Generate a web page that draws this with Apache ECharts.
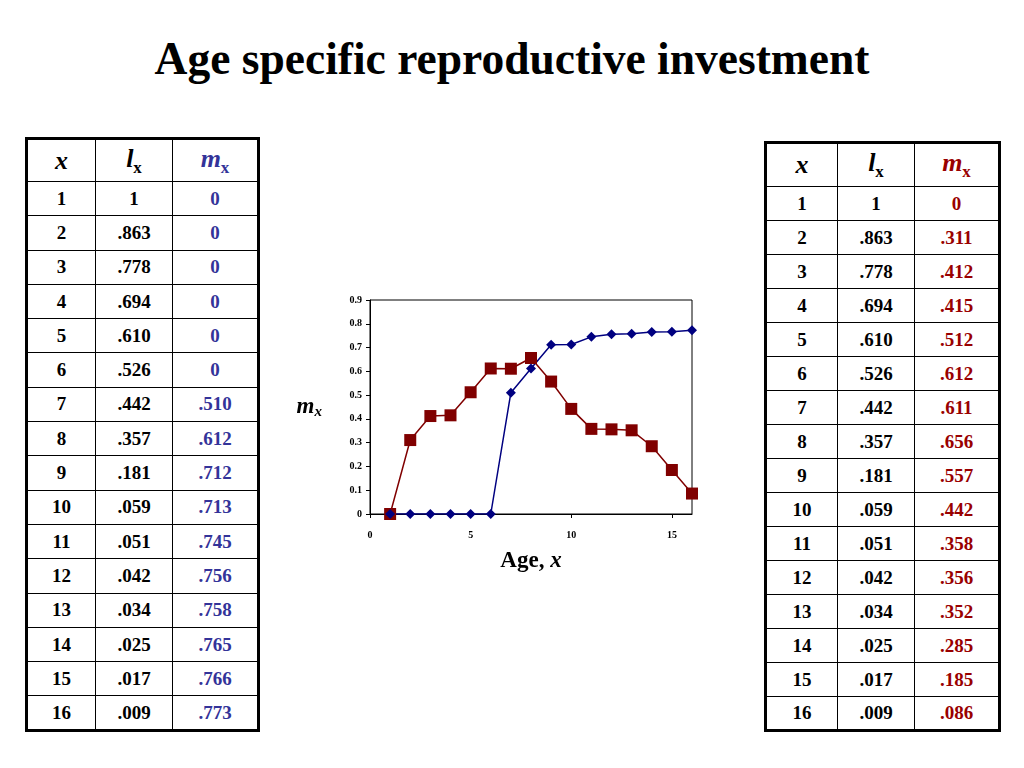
<!DOCTYPE html>
<html>
<head>
    <meta charset="utf-8" />
    <script src="https://cdn.jsdelivr.net/npm/echarts@6/dist/echarts.min.js"></script>
    <style type="text/css">
        body {
            margin: 0;
            width: 1024px;
            height: 768px;
            background: #fff;
            position: relative;
            overflow: hidden;
            font-family: "Liberation Serif", "Times New Roman", serif;
        }

        h1 {
            position: absolute;
            left: 0;
            width: 1024px;
            top: 32px;
            margin: 0;
            text-align: center;
            font-size: 45.5px;
            font-weight: bold;
        }

        table {
            position: absolute;
            border-collapse: collapse;
            border: 3px solid #000;
            font-weight: bold;
            font-size: 19px;
            table-layout: fixed;
        }

        td, th {
            border: 1.5px solid #000;
            text-align: center;
            padding: 0;
        }

        th {
            font-size: 26px;
            font-style: italic;
        }

        th sub {
            font-size: 17px;
            font-style: normal;
            vertical-align: -6px;
        }

        #chart {
            position: absolute;
            left: 280px;
            top: 280px;
            width: 440px;
            height: 310px;
        }
    </style>
</head>

<body>
    <h1>Age specific reproductive investment</h1>
    <table id="leftTable" style="left:25px; top:137px;"></table>
    <table id="rightTable" style="left:764px; top:141px;"></table>
    <div id="chart"></div>
    <script type="text/javascript">
        // 数据
        var ages = [1, 2, 3, 4, 5, 6, 7, 8, 9, 10, 11, 12, 13, 14, 15, 16];
        var lx = ["1", ".863", ".778", ".694", ".610", ".526", ".442", ".357", ".181", ".059", ".051", ".042", ".034", ".025", ".017", ".009"];
        var mxLeft = [0, 0, 0, 0, 0, 0, 0.510, 0.612, 0.712, 0.713, 0.745, 0.756, 0.758, 0.765, 0.766, 0.773];
        var mxRight = [0, 0.311, 0.412, 0.415, 0.512, 0.612, 0.611, 0.656, 0.557, 0.442, 0.358, 0.356, 0.352, 0.285, 0.185, 0.086];

        var blueText = "#333399";
        var redText = "#990000";
        var blueLine = "#000080";
        var redLine = "#800000";

        function fmt(v) {
            if (v === 0) return "0";
            return v.toFixed(3).replace(/^0/, "");
        }

        // 生成表格
        function buildTable(id, mx, colW, headH, rowH, color) {
            var html = "<colgroup>";
            colW.forEach(function (w) { html += '<col style="width:' + w + 'px">'; });
            html += "</colgroup>";
            html += '<tr style="height:' + headH + 'px"><th>x</th><th>l<sub>x</sub></th>' +
                '<th style="color:' + color + '">m<sub>x</sub></th></tr>';
            for (var i = 0; i < ages.length; i++) {
                html += '<tr style="height:' + rowH + 'px"><td>' + ages[i] + "</td><td>" + lx[i] +
                    '</td><td style="color:' + color + '">' + fmt(mx[i]) + "</td></tr>";
            }
            document.getElementById(id).innerHTML = html;
        }
        buildTable("leftTable", mxLeft, [69, 77, 86], 43, 34.3, blueText);
        buildTable("rightTable", mxRight, [72, 77, 85], 44, 34, redText);

        // 图表
        var myChart = echarts.init(document.getElementById("chart"));
        var labelStyle = {
            color: "#000",
            fontFamily: "Liberation Serif",
            fontWeight: "bold",
            fontSize: 10,
        };
        var option = {
            animation: false,
            grid: {
                left: 90,
                top: 20,
                width: 322,
                height: 214,
                show: true,
                borderColor: "#000",
                borderWidth: 1,
            },
            xAxis: {
                type: "value",
                min: 0,
                max: 16,
                interval: 5,
                name: "Age, {i|x}",
                nameLocation: "middle",
                nameGap: 36,
                nameTextStyle: {
                    color: "#000",
                    fontFamily: "Liberation Serif",
                    fontWeight: "bold",
                    fontSize: 23,
                    rich: {
                        i: {
                            fontFamily: "Liberation Serif",
                            fontWeight: "bold",
                            fontStyle: "italic",
                            fontSize: 23,
                            color: "#000",
                        },
                    },
                },
                axisLine: { lineStyle: { color: "#000" } },
                axisTick: { lineStyle: { color: "#000" }, length: 4 },
                axisLabel: Object.assign({ showMaxLabel: false, margin: 16 }, labelStyle),
                splitLine: { show: false },
            },
            yAxis: {
                type: "value",
                min: 0,
                max: 0.9,
                interval: 0.1,
                name: "{m|m}{s|x}",
                nameLocation: "middle",
                nameRotate: 0,
                nameGap: 48,
                nameTextStyle: {
                    rich: {
                        m: {
                            fontFamily: "Liberation Serif",
                            fontWeight: "bold",
                            fontStyle: "italic",
                            fontSize: 23,
                            color: "#000",
                        },
                        s: {
                            fontFamily: "Liberation Serif",
                            fontWeight: "bold",
                            fontStyle: "italic",
                            fontSize: 15,
                            color: "#000",
                            padding: [10, 0, 0, 0],
                        },
                    },
                },
                axisLine: { show: true, lineStyle: { color: "#000" } },
                axisTick: { show: true, lineStyle: { color: "#000" }, length: 4 },
                axisLabel: Object.assign({ margin: 8 }, labelStyle),
                splitLine: { show: false },
            },
            series: [
                {
                    name: "mx2",
                    type: "line",
                    data: ages.map(function (a, i) { return [a, mxRight[i]]; }),
                    symbol: "rect",
                    symbolSize: 12,
                    lineStyle: { color: redLine, width: 1.5 },
                    itemStyle: { color: redLine },
                },
                {
                    name: "mx1",
                    type: "line",
                    data: ages.map(function (a, i) { return [a, mxLeft[i]]; }),
                    symbol: "diamond",
                    symbolSize: 10,
                    lineStyle: { color: blueLine, width: 1.5 },
                    itemStyle: { color: blueLine },
                },
            ],
        };
        myChart.setOption(option);
    </script>
</body>
</html>
